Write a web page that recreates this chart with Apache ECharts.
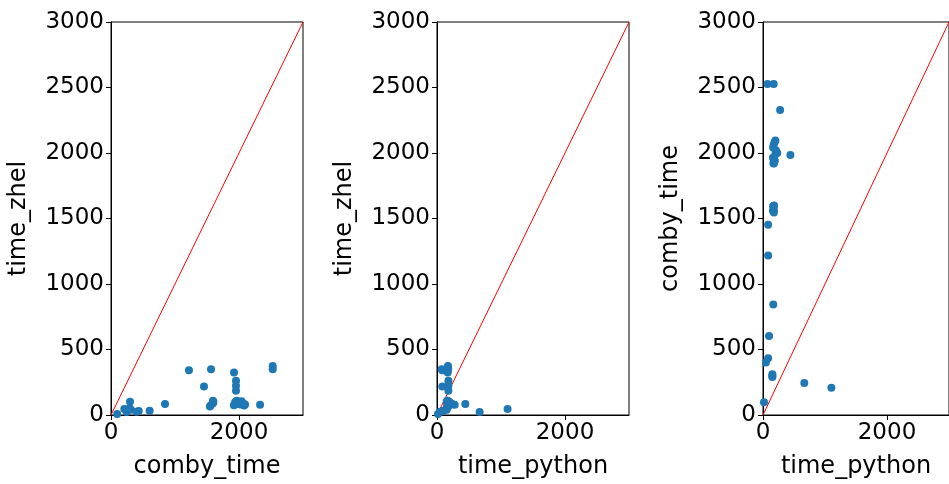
<!DOCTYPE html>
<html>
<head>
<meta charset="utf-8">
<script src="https://cdn.jsdelivr.net/npm/echarts@6/dist/echarts.min.js"></script>
<style>
  html, body { margin: 0; padding: 0; background: #fff; }
  #chart { width: 949px; height: 484px; }
</style>
</head>
<body>
<div id="chart"></div>
<script>
// Timing per benchmark case (one entry per case, same order in every array)
const combyTime = [2527, 2527, 2329, 1984, 1218, 1563, 1922, 1953, 1953, 1953,
                   1453, 1593, 1593, 1560, 1545, 1600, 1964, 1990, 2020, 2060,
                   2080, 1940, 2000, 1920, 2040, 2095, 844, 604, 297, 312,
                   434, 401, 244, 208, 97, 291];
const timePython = [172, 73, 276, 442, 83, 175, 168, 178, 178, 178,
                    83, 165, 170, 160, 175, 180, 160, 200, 210, 170,
                    185, 190, 230, 175, 165, 200, 166, 98, 151, 151,
                    83, 47, 666, 1103, 16, 151];
const timeZhel = [375, 350, 78, 84, 342, 350, 325, 261, 223, 185,
                  218, 109, 90, 75, 65, 100, 109, 95, 80, 90,
                  72, 100, 85, 75, 105, 80, 84, 33, 101, 40,
                  30, 25, 23, 46, 8, 51];

const axisMax = 3000;
const xTicks = [0, 2000];
const yTicks = [0, 500, 1000, 1500, 2000, 2500, 3000];
const diagLine = [0, 3000];

const panels = [
  { x: combyTime, y: timeZhel, xName: 'comby_time', yName: 'time_zhel', left: 111 },
  { x: timePython, y: timeZhel, xName: 'time_python', yName: 'time_zhel', left: 437 },
  { x: timePython, y: combyTime, xName: 'time_python', yName: 'comby_time', left: 763 }
];

const font = 'DejaVu Sans';
const grids = [], xAxes = [], yAxes = [], series = [];

panels.forEach((p, i) => {
  grids.push({ left: p.left, top: 22, width: 192, height: 394, show: true,
               borderColor: '#000', borderWidth: 1, backgroundColor: 'transparent' });
  const common = {
    gridIndex: i, type: 'value', min: 0, max: axisMax,
    nameLocation: 'middle',
    nameTextStyle: { fontFamily: font, fontSize: 24, color: '#000' },
    axisLine: { show: true, onZero: false, lineStyle: { color: '#000', width: 1 } },
    axisTick: { show: true, length: 5, lineStyle: { color: '#000', width: 1 } },
    axisLabel: { fontFamily: font, fontSize: 23, color: '#000', margin: 7,
                 formatter: v => String(v) },
    splitLine: { show: false }
  };
  xAxes.push(Object.assign({}, common, {
    name: p.xName, nameGap: 40,
    axisTick: Object.assign({}, common.axisTick, { customValues: xTicks }),
    axisLabel: Object.assign({}, common.axisLabel, { customValues: xTicks })
  }));
  yAxes.push(Object.assign({}, common, {
    name: p.yName, nameGap: 80,
    axisTick: Object.assign({}, common.axisTick, { customValues: yTicks }),
    axisLabel: Object.assign({}, common.axisLabel, { customValues: yTicks })
  }));
  series.push({
    type: 'scatter', xAxisIndex: i, yAxisIndex: i, symbolSize: 8,
    itemStyle: { color: '#1f77b4', opacity: 1 },
    data: p.x.map((v, k) => [v, p.y[k]]),
    animation: false
  });
  series.push({
    type: 'line', xAxisIndex: i, yAxisIndex: i, showSymbol: false,
    lineStyle: { color: '#ff0000', width: 1 },
    data: diagLine.map(v => [v, v]),
    animation: false, z: 1
  });
});

const chart = echarts.init(document.getElementById('chart'));
chart.setOption({
  animation: false,
  backgroundColor: '#fff',
  grid: grids, xAxis: xAxes, yAxis: yAxes, series: series
});
</script>
</body>
</html>
